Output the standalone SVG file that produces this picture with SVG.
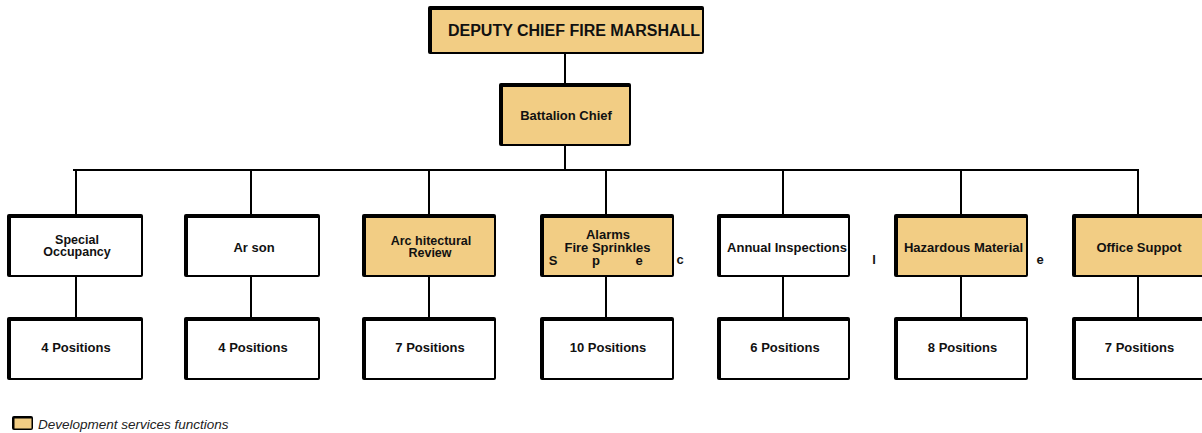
<svg xmlns="http://www.w3.org/2000/svg" width="1202" height="433" viewBox="0 0 1202 433">
<style>
.sh{fill:#000}
.w{fill:#fff}
.y{fill:#F2CD84}
.t{font-family:"Liberation Sans",Arial,sans-serif;font-weight:bold;font-size:13px;fill:#111;text-anchor:middle}
.t2{font-size:12.5px}
.c{stroke:#000;stroke-width:2;fill:none}
.lg{font-family:"Liberation Sans",Arial,sans-serif;font-style:italic;font-size:13.5px;fill:#222}
</style>
<rect width="1202" height="433" fill="#fff"/>
<g id="connectors" class="c">
<line x1="565" y1="54" x2="565" y2="84"/>
<line x1="565" y1="146" x2="565" y2="170"/>
<line x1="73" y1="170" x2="1139" y2="170"/>
<line x1="76" y1="170" x2="76" y2="215"/>
<line x1="251" y1="170" x2="251" y2="215"/>
<line x1="429" y1="170" x2="429" y2="215"/>
<line x1="606" y1="170" x2="606" y2="215"/>
<line x1="783" y1="170" x2="783" y2="215"/>
<line x1="961" y1="170" x2="961" y2="215"/>
<line x1="1138" y1="170" x2="1138" y2="215"/>
<line x1="76" y1="277" x2="76" y2="318"/>
<line x1="251" y1="277" x2="251" y2="318"/>
<line x1="429" y1="277" x2="429" y2="318"/>
<line x1="606" y1="277" x2="606" y2="318"/>
<line x1="783" y1="277" x2="783" y2="318"/>
<line x1="961" y1="277" x2="961" y2="318"/>
<line x1="1138" y1="277" x2="1138" y2="318"/>
</g>
<g id="deputy">
<rect class="sh" x="428" y="6" width="276" height="48" rx="2"/>
<rect class="y" x="432" y="10" width="270" height="42"/>
<text class="t" x="574" y="36" style="font-size:16px">DEPUTY CHIEF FIRE MARSHALL</text>
</g>
<g id="battalion">
<rect class="sh" x="499" y="83" width="132" height="63" rx="2"/>
<rect class="y" x="503" y="87" width="126" height="57"/>
<text class="t" x="566" y="119.5">Battalion Chief</text>
</g>
<g id="special">
<rect class="sh" x="7" y="214" width="136" height="63" rx="2"/>
<rect class="w" x="11" y="218" width="130" height="57"/>
<text class="t t2" x="77" y="244">Special</text>
<text class="t t2" x="77" y="256">Occupancy</text>
</g>
<g id="arson">
<rect class="sh" x="184" y="214" width="136" height="63" rx="2"/>
<rect class="w" x="188" y="218" width="130" height="57"/>
<text class="t" x="254" y="252">Ar son</text>
</g>
<g id="architectural">
<rect class="sh" x="362" y="214" width="134" height="63" rx="2"/>
<rect class="y" x="366" y="218" width="128" height="57"/>
<text class="t t2" x="431" y="244.5">Arc hitectural</text>
<text class="t t2" x="430" y="256.5">Review</text>
</g>
<g id="alarms">
<rect class="sh" x="540" y="214" width="134" height="63" rx="2"/>
<rect class="y" x="544" y="218" width="128" height="57"/>
<text class="t" x="608" y="238.5">Alarms</text>
<text class="t" x="607.5" y="251.5">Fire Sprinkles</text>
</g>
<g id="annual">
<rect class="sh" x="717" y="214" width="133" height="63" rx="2"/>
<rect class="w" x="721" y="218" width="127" height="57"/>
<text class="t" x="787" y="252">Annual Inspections</text>
</g>
<g id="hazardous">
<rect class="sh" x="894" y="214" width="134" height="63" rx="2"/>
<rect class="y" x="898" y="218" width="128" height="57"/>
<text class="t" x="963.5" y="252">Hazardous Material</text>
</g>
<g id="office">
<rect class="sh" x="1072" y="214" width="134" height="63" rx="2"/>
<rect class="y" x="1076" y="218" width="128" height="57"/>
<text class="t" x="1139" y="252">Office Suppot</text>
</g>
<g id="scattered">
<text class="t" x="553" y="264.5">S</text>
<text class="t" x="596" y="264.5">p</text>
<text class="t" x="639" y="264.5">e</text>
<text class="t" x="680" y="264">c</text>
<text class="t" x="874" y="264">l</text>
<text class="t" x="1040" y="264">e</text>
</g>
<g id="pos1">
<rect class="sh" x="7" y="317" width="136" height="63" rx="2"/>
<rect class="w" x="11" y="321" width="130" height="57"/>
<text class="t" x="76" y="352">4 Positions</text>
</g>
<g id="pos2">
<rect class="sh" x="184" y="317" width="136" height="63" rx="2"/>
<rect class="w" x="188" y="321" width="130" height="57"/>
<text class="t" x="253" y="352">4 Positions</text>
</g>
<g id="pos3">
<rect class="sh" x="362" y="317" width="134" height="63" rx="2"/>
<rect class="w" x="366" y="321" width="128" height="57"/>
<text class="t" x="430" y="352">7 Positions</text>
</g>
<g id="pos4">
<rect class="sh" x="540" y="317" width="134" height="63" rx="2"/>
<rect class="w" x="544" y="321" width="128" height="57"/>
<text class="t" x="608" y="352">10 Positions</text>
</g>
<g id="pos5">
<rect class="sh" x="717" y="317" width="133" height="63" rx="2"/>
<rect class="w" x="721" y="321" width="127" height="57"/>
<text class="t" x="785" y="352">6 Positions</text>
</g>
<g id="pos6">
<rect class="sh" x="894" y="317" width="134" height="63" rx="2"/>
<rect class="w" x="898" y="321" width="128" height="57"/>
<text class="t" x="962.5" y="352">8 Positions</text>
</g>
<g id="pos7">
<rect class="sh" x="1072" y="317" width="134" height="63" rx="2"/>
<rect class="w" x="1076" y="321" width="128" height="57"/>
<text class="t" x="1139.5" y="352">7 Positions</text>
</g>
<g id="legend">
<rect class="sh" x="12" y="416" width="21" height="14" rx="2"/>
<rect class="y" x="14.5" y="418.5" width="17" height="10"/>
<text class="lg" x="38" y="428.5">Development services functions</text>
</g>
</svg>
